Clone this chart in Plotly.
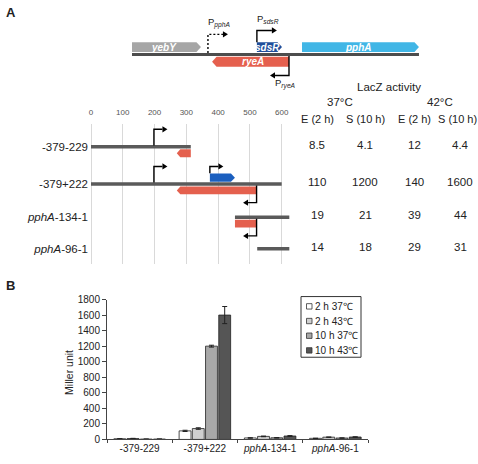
import plotly.graph_objects as go

W, H = 478, 464
FONT = "Arial, 'Liberation Sans', Helvetica, sans-serif"

# ---------------- data ----------------
constructs = ["-379-229", "-379+222", "<i>pphA</i>-134-1", "<i>pphA</i>-96-1"]
series_names = ["2 h 37℃", "2 h 43℃", "10 h 37℃", "10 h 43℃"]
e_37 = [8.5, 110, 19, 14]
e_42 = [12, 140, 39, 29]
s_37 = [4.1, 1200, 21, 18]
s_42 = [4.4, 1600, 44, 31]
err_e_37 = [1.5, 8, 3, 2]
err_e_42 = [2, 10, 4, 2]
err_s_37 = [0.8, 12, 3, 2]
err_s_42 = [0.8, 110, 5, 3]
table_headers = ["E (2 h)", "S (10 h)", "E (2 h)", "S (10 h)"]
temp_headers = ["37°C", "42°C"]
map_ticks = [0, 100, 200, 300, 400, 500, 600]
miller_ticks = [0, 200, 400, 600, 800, 1000, 1200, 1400, 1600, 1800]

# construct map (nt along the map axis)
construct_span = [[0, 314], [0, 600], [453, 624], [523, 624]]
ryeA_part = [[270, 314], [270, 521], [453, 521], None]
ryeA_tip = [True, True, False, False]
sdsR_part = [None, [374, 453], None, None]
pphA_promoter = [198, 198, None, None]
sdsR_promoter = [None, 374, None, None]
ryeA_promoter = [None, 521, 521, None]

# locus schematic (same nt scale)
genes = ["yebY", "sdsR", "pphA", "ryeA"]
gene_start = [129, 522, 664, 381]
gene_end = [346, 601, 1032, 623]
gene_strand = [1, 1, 1, -1]
locus_span = [129, 1032]
promoter_names = ["pphA", "sdsR", "ryeA"]
promoter_pos = [368, 522, 623]
promoter_strand = [1, 1, -1]

# ---------------- style / layout ----------------
gene_colors = {"yebY": "#a6a6a6", "sdsR": "#1f4e9a", "pphA": "#41b6e6", "ryeA": "#e5604e"}
RED = "#e4604e"
BLUE = "#1b5fbf"
LINE_GRAY = "#5a5a5a"
bar_colors = ["#ffffff", "#cfcfcf", "#a8a8a8", "#555555"]
TEXT = "#222222"

KX = 0.3178   # px per nt
X0 = 91.0     # px of nt 0
ROW_PX = [145, 183, 217, 249]
table_cols_px = [317, 365, 414, 460]


def P(x):
    return x / W


def Q(y):
    return 1 - y / H


def poly(pts, close=True):
    s = "M" + "L".join(f"{x:.3f},{y:.3f}" for x, y in pts)
    return s + ("Z" if close else "")


def gene_arrow(x0, x1, yc, h, direction, tip_px):
    tip = tip_px / KX
    if direction > 0:
        pts = [(x0, yc - h / 2), (x1 - tip, yc - h / 2), (x1, yc), (x1 - tip, yc + h / 2), (x0, yc + h / 2)]
    elif direction < 0:
        pts = [(x1, yc - h / 2), (x0 + tip, yc - h / 2), (x0, yc), (x0 + tip, yc + h / 2), (x1, yc + h / 2)]
    else:
        pts = [(x0, yc - h / 2), (x1, yc - h / 2), (x1, yc + h / 2), (x0, yc + h / 2)]
    return poly(pts)


shapes = []
annotations = []


def note(x, y, text, size, xref="paper", yref="paper", xanchor="center", yanchor="middle", **kw):
    annotations.append(dict(x=x, y=y, xref=xref, yref=yref, text=text, showarrow=False,
                            xanchor=xanchor, yanchor=yanchor,
                            font=dict(size=size, color=kw.pop("color", TEXT), family=FONT), **kw))


def add_poly(path, color, xref, yref):
    shapes.append(dict(type="path", path=path, xref=xref, yref=yref,
                       fillcolor=color, line=dict(width=0), layer="above"))


def bent_arrow(x, y_start, y_end, direction, xref, yref, length_px=13.5, dash="solid"):
    head_l, head_w = 5.0, 3.2
    x_end = x + direction * length_px / KX
    x_base = x + direction * (length_px - head_l) / KX
    shapes.append(dict(type="path", xref=xref, yref=yref,
                       path=poly([(x, y_start), (x, y_end), (x_base, y_end)], close=False),
                       line=dict(color="black", width=1.4, dash=dash), layer="above"))
    add_poly(poly([(x_end, y_end), (x_base, y_end - head_w), (x_base, y_end + head_w)]),
             "black", xref, yref)


# ---- locus schematic (x2/y2: nt / px) ----
LOCUS_Y = 50.5
shapes.append(dict(type="line", xref="x2", yref="y2", x0=locus_span[0], x1=locus_span[1],
                   y0=LOCUS_Y, y1=LOCUS_Y, line=dict(color="#4d4d4d", width=3)))
for g, a, b, s in zip(genes, gene_start, gene_end, gene_strand):
    yc = LOCUS_Y - 7.5 if s > 0 else LOCUS_Y + 7.5
    add_poly(gene_arrow(a, b, yc, 10, s, 4.5), gene_colors[g], "x2", "y2")
    body_mid = (a + b) / 2 - s * 2.0 / KX
    note(body_mid, yc, f"<b><i>{g}</i></b>", 10, xref="x2", yref="y2", color="white")

for name, pos, s in zip(promoter_names, promoter_pos, promoter_strand):
    if name == "pphA":
        bent_arrow(pos, LOCUS_Y - 1.5, 30, 1, "x2", "y2", length_px=20, dash="2px,2px")
        ly = 27
    elif name == "sdsR":
        bent_arrow(pos, 38, 26, 1, "x2", "y2", length_px=20)
        ly = 22.5
    else:
        bent_arrow(pos, LOCUS_Y + 1.5, 72, -1, "x2", "y2", length_px=19)
        ly = 89
    note(pos, ly, f"P<sub><i>{name}</i></sub>", 9.5, xref="x2", yref="y2", xanchor="left",
         yanchor="bottom", xshift=-1.5 if s > 0 else -16)

# ---- construct map (x/y: nt / px) ----
for i, span in enumerate(construct_span):
    y = ROW_PX[i]
    shapes.append(dict(type="line", xref="x", yref="y", x0=span[0], x1=span[1], y0=y, y1=y,
                       line=dict(color=LINE_GRAY, width=3.5), layer="above"))
    if ryeA_part[i]:
        a, b = ryeA_part[i]
        add_poly(gene_arrow(a, b, y + 6.5, 8, -1 if ryeA_tip[i] else 0, 3.5), RED, "x", "y")
    if sdsR_part[i]:
        a, b = sdsR_part[i]
        add_poly(gene_arrow(a, b, y - 6.5, 8.5, 1, 4), BLUE, "x", "y")
    if pphA_promoter[i] is not None:
        bent_arrow(pphA_promoter[i], y - 1.5, y - 18, 1, "x", "y")
    if sdsR_promoter[i] is not None:
        bent_arrow(sdsR_promoter[i], y - 11, y - 18, 1, "x", "y")
    if ryeA_promoter[i] is not None:
        bent_arrow(ryeA_promoter[i], y + 1.5, y + 19, -1, "x", "y")

# ---- LacZ table ----
note(P(389), Q(84), "LacZ activity", 11.5)
for t, xc in zip(temp_headers, [340, 440]):
    note(P(xc), Q(99), t, 11.5)
for t, xc in zip(table_headers, table_cols_px):
    note(P(min(xc, 457)), Q(117), t, 11)
table_cols = [e_37, s_37, e_42, s_42]
for j, col in enumerate(table_cols):
    for i, v in enumerate(col):
        note(P(table_cols_px[j]), ROW_PX[i] - 2, f"{v:g}", 11.5, yref="y")

# ---- panel letters & y title ----
note(P(4), Q(8), "<b>A</b>", 13, xanchor="left")
note(P(4), Q(287), "<b>B</b>", 13, xanchor="left")
note(P(69), Q(376), "Miller unit", 10.5, textangle=-90)

# ---- manual legend ----
shapes.append(dict(type="rect", xref="paper", yref="paper", x0=P(301), x1=P(361), y0=Q(360), y1=Q(298),
                   line=dict(color="#333333", width=1), fillcolor="white"))
for k, (nm, c) in enumerate(zip(series_names, bar_colors)):
    yc = 308 + 15 * k
    shapes.append(dict(type="rect", xref="paper", yref="paper", x0=P(306.5), x1=P(312), y0=Q(yc + 2.75),
                       y1=Q(yc - 2.75), fillcolor=c, line=dict(color="#333333", width=0.8)))
    note(P(313), Q(yc), nm, 10, xanchor="left")

# ---------------- figure ----------------
fig = go.Figure()
series_vals = [e_37, e_42, s_37, s_42]
series_err = [err_e_37, err_e_42, err_s_37, err_s_42]
for nm, vals, err, c in zip(series_names, series_vals, series_err, bar_colors):
    fig.add_trace(go.Bar(x=constructs, y=vals, name=nm, xaxis="x3", yaxis="y3",
                         marker=dict(color=c, line=dict(color="#222222", width=0.8)),
                         error_y=dict(type="data", array=err, color="#222222", thickness=1, width=2.5),
                         showlegend=False))
# anchor traces for the map subplots
fig.add_trace(go.Scatter(x=[0], y=[ROW_PX[0]], xaxis="x", yaxis="y", mode="markers",
                         marker=dict(opacity=0), hoverinfo="skip", showlegend=False))
fig.add_trace(go.Scatter(x=[locus_span[0]], y=[LOCUS_Y], xaxis="x2", yaxis="y2", mode="markers",
                         marker=dict(opacity=0), hoverinfo="skip", showlegend=False))

fig.update_layout(
    width=W, height=H, margin=dict(l=0, r=0, t=0, b=0),
    paper_bgcolor="white", plot_bgcolor="rgba(0,0,0,0)",
    font=dict(family=FONT, color=TEXT),
    barmode="group", bargap=0.19, bargroupgap=0.1,
    showlegend=False,
    xaxis=dict(domain=[P(89), P(296)], range=[(89 - X0) / KX, (296 - X0) / KX], anchor="y",
               side="top", tickvals=map_ticks, showgrid=True, gridcolor="#d9d9d9", gridwidth=1,
               zeroline=False, showline=False, ticks="outside", ticklen=5, tickcolor="rgba(0,0,0,0)",
               tickfont=dict(size=8, color="#555555")),
    yaxis=dict(domain=[Q(265), Q(122)], range=[265, 122], anchor="x", tickvals=ROW_PX,
               ticktext=constructs, showgrid=False, zeroline=False, showline=False, ticks="",
               tickfont=dict(size=11.5, color=TEXT)),
    xaxis2=dict(domain=[0, 1], range=[(0 - X0) / KX, (W - X0) / KX], anchor="y2", visible=False),
    yaxis2=dict(domain=[0, 1], range=[H, 0], anchor="x2", visible=False),
    xaxis3=dict(domain=[P(107), P(368)], anchor="y3", showline=True, linecolor="#444444", linewidth=1,
                ticks="outside", tickson="boundaries", ticklen=3, tickcolor="#444444",
                tickfont=dict(size=10, color=TEXT), showgrid=False),
    yaxis3=dict(domain=[Q(444), Q(301)], range=[0, 1800], anchor="x3", tickvals=miller_ticks,
                showline=True, linecolor="#444444", linewidth=1, ticks="outside", ticklen=4,
                tickcolor="#444444", showgrid=False, zeroline=False, tickfont=dict(size=10, color=TEXT)),
    shapes=shapes, annotations=annotations,
)

fig.write_html("out.html", config={"displayModeBar": False},
               post_script="document.body.style.margin='0';document.body.style.overflow='hidden';")
